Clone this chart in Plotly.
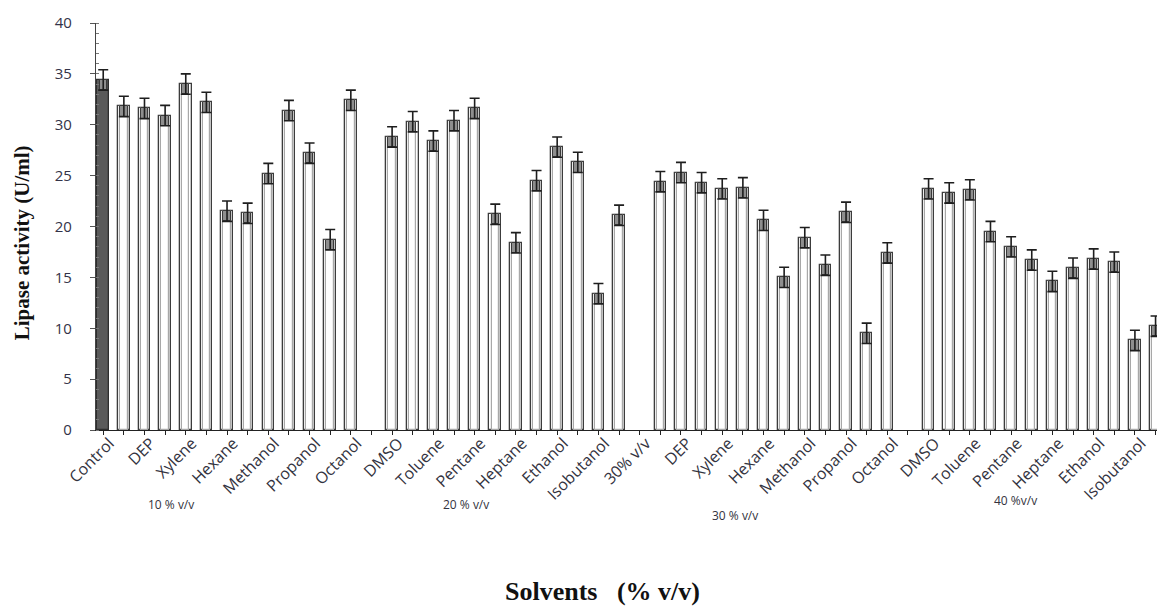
import plotly.graph_objects as go

# Lipase activity (U/ml) by solvent and concentration
control_value = 34.4
control_err = 1.0

pct10 = [31.8, 31.6, 30.9, 34.0, 32.2, 21.5, 21.3, 25.2, 31.4, 27.2, 18.7, 32.4]
pct20 = [28.8, 30.3, 28.4, 30.4, 31.6, 21.2, 18.4, 24.5, 27.8, 26.3, 13.4, 21.1]
pct30 = [24.4, 25.3, 24.3, 23.7, 23.8, 20.6, 15.0, 18.9, 16.2, 21.4, 9.5, 17.4]
pct40 = [23.7, 23.3, 23.6, 19.5, 18.0, 16.7, 14.6, 15.9, 16.8, 16.5, 8.8, 10.2]

err10 = [1.0] * 12
err20 = [1.0] * 12
err30 = [1.0] * 12
err40 = [1.0] * 12

# axis labels, one per category slot (blank slots carry no label)
tick_labels = [
    "Control", "",
    "DEP", "", "Xylene", "", "Hexane", "", "Methanol", "", "Propanol", "", "Octanol", "",
    "DMSO", "", "Toluene", "", "Pentane", "", "Heptane", "", "Ethanol", "", "Isobutanol", "",
    "30% v/v", "",
    "DEP", "", "Xylene", "", "Hexane", "", "Methanol", "", "Propanol", "", "Octanol", "",
    "DMSO", "", "Toluene", "", "Pentane", "", "Heptane", "", "Ethanol", "", "Isobutanol", "",
]

group_titles = ["10 % v/v", "20 % v/v", "30 % v/v", "40 %v/v"]

# category slots: control, then four groups of 12 separated by an empty slot
groups = [pct10, pct20, pct30, pct40]
errs = [err10, err20, err30, err40]
xs, ys, es = [], [], []
start = 1
for vals, ers in zip(groups, errs):
    for i, (v, e) in enumerate(zip(vals, ers)):
        xs.append(start + i)
        ys.append(v)
        es.append(e)
    start += len(vals) + 1

BAR_W = 0.56
INNER_W = 0.36
X_RANGE = [-0.35, 51.07]
LABEL_SHIFT = 0.3   # rotated labels sit just right of their tick

fig = go.Figure()

# solvent bars: white with a dark outline and a lighter inner outline
fig.add_trace(go.Bar(x=xs, y=ys, width=BAR_W,
                     marker=dict(color="white", line=dict(color="#3c3c3c", width=1.3)),
                     showlegend=False))
fig.add_trace(go.Bar(x=xs, y=ys, width=INNER_W,
                     marker=dict(color="white", line=dict(color="#a8a8a8", width=1.2)),
                     showlegend=False))
# control bar
fig.add_trace(go.Bar(x=[0], y=[control_value], width=BAR_W,
                     marker=dict(color="#5a5a5a", line=dict(color="#2e2e2e", width=1.3)),
                     showlegend=False))

# lower half of the error range, shaded inside the bar top
all_x = [0] + xs
all_y = [control_value] + ys
all_e = [control_err] + es
fig.add_trace(go.Bar(x=all_x, y=all_e, base=[v - e for v, e in zip(all_y, all_e)],
                     width=INNER_W,
                     marker=dict(color="#8e8e8e", line=dict(color="#3a3a3a", width=1)),
                     showlegend=False))

# error bars
fig.add_trace(go.Scatter(x=all_x, y=all_y, mode="markers",
                         marker=dict(size=1, color="rgba(0,0,0,0)"),
                         error_y=dict(type="data", array=all_e, visible=True,
                                      color="#1e1e1e", thickness=1.6, width=5),
                         showlegend=False, hoverinfo="skip"))

# placeholder trace so the label axis is drawn
fig.add_trace(go.Scatter(x=[0], y=[0], xaxis="x2", mode="markers",
                         marker=dict(size=1, color="rgba(0,0,0,0)"),
                         showlegend=False, hoverinfo="skip"))

fig.update_layout(
    width=1157, height=609,
    margin=dict(l=96, r=0, t=23, b=179),
    paper_bgcolor="white", plot_bgcolor="white",
    barmode="overlay", bargap=0,
    font=dict(family="Open Sans", color="#333340"),
    xaxis=dict(
        range=X_RANGE,
        tickmode="array", tickvals=list(range(len(tick_labels))),
        showticklabels=False,
        ticks="outside", ticklen=4, tickcolor="#222", tickwidth=1,
        showline=True, linecolor="#222", linewidth=1.2,
        showgrid=False, zeroline=False,
    ),
    xaxis2=dict(
        overlaying="x", anchor="y", side="bottom", range=X_RANGE,
        tickmode="array",
        tickvals=[i + LABEL_SHIFT for i in range(len(tick_labels))],
        ticktext=tick_labels, tickangle=-45,
        tickfont=dict(family="Open Sans", size=16, color="#333340"),
        ticks="", showline=False, showgrid=False, zeroline=False,
    ),
)

fig.update_yaxes(
    range=[0, 40], dtick=5, tick0=0,
    tickfont=dict(family="Open Sans", size=15, color="#333348"),
    ticks="outside", ticklen=5, tickcolor="#555", ticklabelstandoff=15,
    minor=dict(dtick=1, ticks="inside", ticklen=3, tickcolor="#777"),
    showline=True, linecolor="#444", linewidth=1.2,
    showgrid=False, zeroline=False,
)

# group titles under the category labels
group_pos = [(3.28, -0.184), (17.6, -0.184), (30.6, -0.209), (44.2, -0.172)]
for txt, (gx, gy) in zip(group_titles, group_pos):
    fig.add_annotation(text=txt, x=gx, xref="x", y=gy, yref="paper", yanchor="middle",
                       showarrow=False, font=dict(family="Open Sans", size=12, color="#333340"))

# axis titles
fig.add_annotation(text="<b>Solvents&nbsp;&nbsp;&nbsp;(% v/v)</b>", x=0.477, xref="paper",
                   y=-0.396, yref="paper", yanchor="middle", showarrow=False,
                   font=dict(family="Liberation Serif", size=26, color="#111"))
fig.add_annotation(text="<b>Lipase activity (U/ml)</b>", textangle=-90,
                   x=-0.0697, xref="paper", y=0.459, yref="paper",
                   xanchor="center", yanchor="middle", showarrow=False,
                   font=dict(family="Liberation Serif", size=21, color="#111"))

fig.write_html("out.html")
